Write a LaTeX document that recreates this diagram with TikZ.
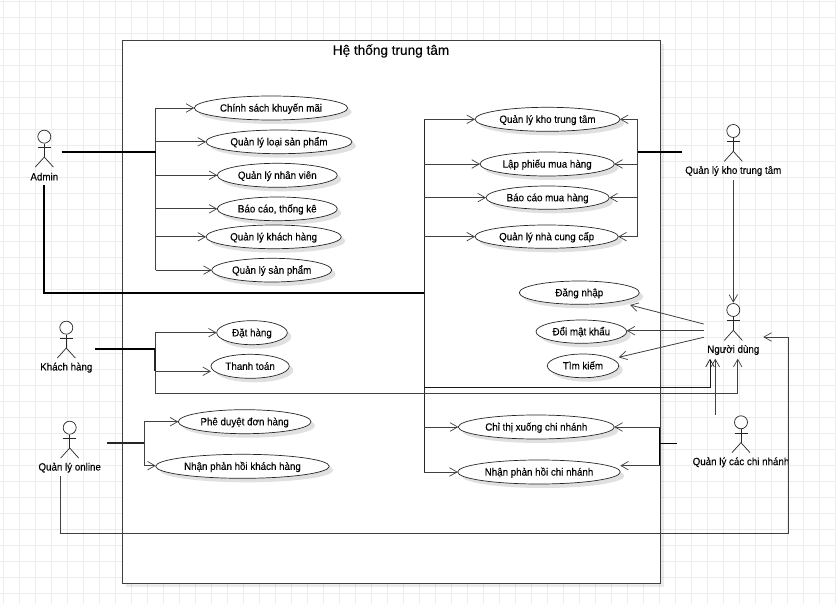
\documentclass[tikz,border=0pt]{standalone}
\usepackage{fontspec}
\setmainfont{Liberation Sans}
\newfontface\labelface[FakeStretch=0.93,FakeBold=0.15]{Liberation Sans}
\newfontface\titleface[FakeBold=0.2]{Liberation Sans}
\usetikzlibrary{shapes.geometric,arrows.meta,shadows,calc}
\tikzset{
  gridline/.style={draw=black!7,line width=0.8pt},
  systembox/.style={draw=black!75,line width=0.9pt,fill=white,rectangle,inner sep=0pt,
    drop shadow={shadow xshift=4pt,shadow yshift=-4pt,fill=black,opacity=0.08}},
  usecase/.style={ellipse,draw=black!85,line width=0.7pt,fill=white,inner sep=0pt,outer sep=0pt,
    font=\labelface\fontsize{10.5}{12}\selectfont,text=black,
    drop shadow={shadow xshift=4pt,shadow yshift=-4pt,fill=black,opacity=0.12}},
  conn/.style={draw=black!75,line width=0.8pt},
  arrowconn/.style={conn,-{Straight Barb[length=7.5pt,width=8.5pt,line width=0.7pt]}},
  thickconn/.style={draw=black,line width=1.7pt},
  mediumconn/.style={draw=black!85,line width=1.2pt},
  darkconn/.style={draw=black,line width=0.75pt},
  actorline/.style={draw=black!85,line width=0.7pt},
  actorhead/.style={circle,draw=black!85,line width=0.7pt,fill=white,minimum size=13pt,inner sep=0pt},
  actorlabel/.style={font=\labelface\fontsize{10.5}{12}\selectfont,text=black,inner sep=0pt},
  titlelabel/.style={font=\titleface\fontsize{13.6}{16}\selectfont,text=black,inner sep=0pt},
}
\newcommand{\umlactor}[4]{%
  \node[actorhead] (#1) at (#2,#3) {};
  \draw[actorline] (#1.south) -- ++(0,13.5) coordinate (#1hip);
  \draw[actorline] ($(#1.south)+(-6.5,3.8)$) -- ++(13,0);
  \draw[actorline] (#1hip) -- ++(-9,10);
  \draw[actorline] (#1hip) -- ++(9,10);
  \node[actorlabel] (#1label) at (#2,#3+40) {#4};
}
\newcommand{\usecasenode}[6]{% name, x1, y1, x2, y2, text
  \node[usecase,minimum width=#4pt-#2pt,minimum height=#5pt-#3pt] (#1) at ({(#2+#4)/2},{(#3+#5)/2}) {\makebox[0pt][c]{\raisebox{-3.6pt}[0pt][0pt]{#6}}};
}
\begin{document}
\begin{tikzpicture}[x=1pt,y=-1pt]
\useasboundingbox (0,0) rectangle (836,604);
% grid
\foreach \gx in {3.5,19.5,...,836} \draw[gridline] (\gx,0) -- (\gx,604);
\foreach \gy in {1,17,...,604} \draw[gridline] (0,\gy) -- (836,\gy);
% system boundary
\node[systembox,minimum width=538pt,minimum height=543pt] (system) at (391,311.5) {};
\node[titlelabel] (title) at (391,51) {Hệ thống trung tâm};
% use cases
\usecasenode{ck}{194.3}{96}{347.7}{120}{Chính sách khuyến mãi}
\usecasenode{lsp}{206}{130}{352}{153.7}{Quản lý loại sản phẩm}
\usecasenode{nv}{217.3}{163.3}{337.3}{187.3}{Quản lý nhân viên}
\usecasenode{bc}{217.3}{197}{337.3}{220.7}{Báo cáo, thống kê}
\usecasenode{kh}{206}{225}{341.3}{248.7}{Quản lý khách hàng}
\usecasenode{sp}{211.7}{258.3}{331.7}{282}{Quản lý sản phẩm}
\usecasenode{kho}{475}{107.3}{620}{131.3}{Quản lý kho trung tâm}
\usecasenode{lp}{480}{152}{614.3}{176}{Lập phiếu mua hàng}
\usecasenode{bm}{486}{186}{609.3}{209.3}{Báo cáo mua hàng}
\usecasenode{ncc}{475}{225}{618.3}{248.3}{Quản lý nhà cung cấp}
\usecasenode{dn}{519.3}{281}{639.3}{304.3}{Đăng nhập}
\usecasenode{dmk}{536}{320}{626.7}{343.3}{Đổi mật khẩu}
\usecasenode{tk}{547.3}{354}{618.7}{377.7}{Tìm kiếm}
\usecasenode{ct}{458.3}{415}{614.3}{439}{Chỉ thị xuống chi nhánh}
\usecasenode{ph}{457.7}{460}{620.3}{484}{Nhận phản hồi chi nhánh}
\usecasenode{dh}{216.7}{320.7}{287.3}{344.7}{Đặt hàng}
\usecasenode{tt}{211}{354.3}{289.3}{378.3}{Thanh toán}
\usecasenode{pd}{178.3}{409.7}{311}{433.7}{Phê duyệt đơn hàng}
\usecasenode{pk}{155.7}{454.3}{329.3}{478.3}{Nhận phản hồi khách hàng}
% actors
\umlactor{admin}{44.3}{136.7}{Admin}
\umlactor{qlkho}{733.3}{131}{Quản lý kho trung tâm}
\umlactor{user}{733.3}{310}{Người dùng}
\umlactor{qlcn}{741}{422.3}{Quản lý các chi nhánh}
\umlactor{guest}{66.3}{327.7}{Khách hàng}
\umlactor{online}{69.7}{427.7}{Quản lý online}
% free ends and buses
\coordinate (adminout) at (61.7,152.3);
\coordinate (adminbus) at (155.7,152.3);
\coordinate (adminknee) at (155.7,176);
\coordinate (adminlow) at (44,185);
\coordinate (adminturn) at (44,292.7);
\coordinate (rbus) at (424.3,292.7);
\coordinate (kout) at (682,152);
\coordinate (kbus) at (637.3,152);
\coordinate (gout) at (95.3,348.7);
\coordinate (gbus) at (155,348.7);
\coordinate (oout) at (107.3,443);
\coordinate (obus) at (144.3,443);
\coordinate (cout) at (676.7,443.3);
\coordinate (cbus) at (659.7,443.3);
% admin
\draw[conn] (adminbus |- ck) -- (adminbus |- sp);
\draw[mediumconn] (adminbus) -- (adminknee);
\draw[thickconn] (adminout) -- (adminbus);
\foreach \e in {ck,lsp,nv,bc,kh,sp} \draw[arrowconn] (adminbus |- \e) -- (\e);
\draw[thickconn] (adminlow) -- (adminturn) -- (rbus);
\coordinate (rtop) at (424.3,119.3);
\coordinate (rbot) at (424.3,472);
\draw[mediumconn] (rtop) -- (rbot);
\foreach \e in {kho,lp,bm,ncc,ct,ph} \draw[arrowconn] (rbus |- \e) -- (\e);
% central warehouse manager
\draw[thickconn] (kout) -- (kbus);
\draw[conn,line width=1pt] (kbus |- kho) -- (kbus |- ncc);
\foreach \e in {kho,lp,bm,ncc} \draw[arrowconn] (kbus |- \e) -- (\e);
% customer
\coordinate (gend) at (155,393.7);
\coordinate (gtip) at (737.7,358.7);
\coordinate (ttip) at (211,371.3);
\draw[conn] (gbus |- dh) -- (gend);
\draw[mediumconn] (gbus) -- (gbus |- ttip);
\draw[thickconn] (gout) -- (gbus);
\draw[arrowconn] (gbus |- dh) -- (dh);
\draw[arrowconn] (gbus |- ttip) -- (ttip);
\draw[arrowconn] (gend) -| (gtip);
% admin bus to user
\coordinate (rtip) at (710,358.7);
\coordinate (rmid) at (424.3,387.3);
\draw[arrowconn,draw=black!90] (rmid) -| (rtip);
% online manager
\draw[mediumconn] (oout) -- (obus);
\draw[conn] (obus |- pd) -- (obus |- pk);
\draw[arrowconn] (obus |- pd) -- (pd);
\coordinate (pktip) at (155.7,465.7);
\draw[arrowconn] (obus |- pktip) -- (pktip);
\coordinate (olow) at (60.3,476);
\coordinate (obot) at (60.3,533);
\coordinate (oright) at (788.3,533);
\coordinate (otip) at (763.3,337);
\draw[arrowconn] (olow) -- (obot) -- (oright) |- (otip);
% warehouse to user
\coordinate (kuend) at (733.3,180.3);
\coordinate (kutip) at (733.3,302.7);
\draw[arrowconn] (kuend) -- (kutip);
% user to its use cases
\coordinate (u1) at (703.7,324);
\coordinate (u1t) at (630,305);
\coordinate (u2) at (703.7,330.7);
\coordinate (u2t) at (626.7,330.7);
\coordinate (u3) at (703.7,337.3);
\coordinate (u3t) at (618.7,357.3);
\draw[arrowconn] (u1) -- (u1t);
\draw[arrowconn] (u2) -- (u2t);
\draw[arrowconn] (u3) -- (u3t);
% branch manager
\coordinate (cu) at (715.3,415);
\coordinate (cut) at (715.3,358.7);
\draw[arrowconn] (cu) -- (cut);
\coordinate (phr) at (620.3,465.7);
\draw[darkconn] (cout) -- (cbus);
\draw[darkconn] (cbus |- ct) -- (cbus |- phr);
\draw[arrowconn] (cbus |- ct) -- (ct);
\draw[arrowconn] (cbus |- phr) -- (phr);
\end{tikzpicture}
\end{document}
